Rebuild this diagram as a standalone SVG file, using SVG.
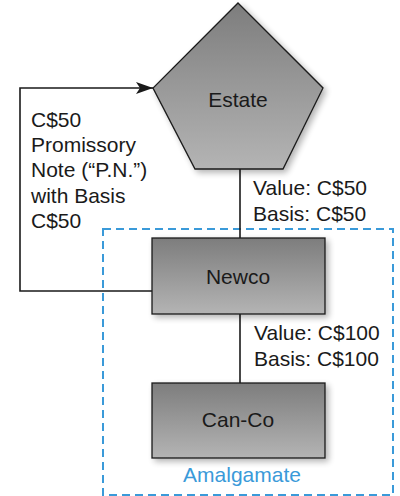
<svg xmlns="http://www.w3.org/2000/svg" width="400" height="496" viewBox="0 0 400 496">
  <style>
    .shape { stroke: #1a1a1a; stroke-width: 1.3; fill: url(#grayFill); filter: url(#shadow); }
    .conn { fill: none; stroke: #1a1a1a; stroke-width: 1.6; }
    .lbl { font-family: "Liberation Sans", Arial, sans-serif; font-size: 21px; fill: #1a1a1a; }
    .mid { text-anchor: middle; }
    .group { fill: none; stroke: #3a9ad9; stroke-width: 2; stroke-dasharray: 8 5; }
    .glbl { font-family: "Liberation Sans", Arial, sans-serif; font-size: 21px; fill: #3a9ad9; text-anchor: middle; }
  </style>
  <defs>
    <linearGradient id="grayFill" x1="0" y1="0" x2="0" y2="1">
      <stop offset="0" stop-color="#7d7d7d"/>
      <stop offset="1" stop-color="#b4b4b4"/>
    </linearGradient>
    <filter id="shadow" x="-20%" y="-20%" width="150%" height="150%">
      <feGaussianBlur in="SourceAlpha" stdDeviation="3"/>
      <feOffset dx="3" dy="3" result="blur"/>
      <feComponentTransfer><feFuncA type="linear" slope="0.3"/></feComponentTransfer>
      <feMerge><feMergeNode/><feMergeNode in="SourceGraphic"/></feMerge>
    </filter>
    <marker id="arrow" markerWidth="18" markerHeight="12" refX="17" refY="6" orient="auto" markerUnits="userSpaceOnUse">
      <path d="M0,0 L17,6 L0,12 L4,6 Z" fill="#1a1a1a"/>
    </marker>
  </defs>

  <!-- amalgamation boundary -->
  <g id="amalgamate">
    <rect class="group" x="103" y="229" width="290" height="266"/>
    <text class="glbl" x="242" y="482">Amalgamate</text>
  </g>

  <!-- connectors -->
  <g id="connectors">
    <line class="conn" x1="240" y1="169" x2="240" y2="238"/>
    <line class="conn" x1="240" y1="314" x2="240" y2="383"/>
    <polyline class="conn" points="152,291 20,291 20,88 153,88" marker-end="url(#arrow)"/>
    <text class="lbl" x="253" y="195">Value: C$50</text>
    <text class="lbl" x="253" y="221">Basis: C$50</text>
    <text class="lbl" x="254" y="340">Value: C$100</text>
    <text class="lbl" x="254" y="366">Basis: C$100</text>
    <text class="lbl" x="31" y="127">C$50</text>
    <text class="lbl" x="31" y="152">Promissory</text>
    <text class="lbl" x="31" y="177">Note (“P.N.”)</text>
    <text class="lbl" x="31" y="203">with Basis</text>
    <text class="lbl" x="31" y="228">C$50</text>
  </g>

  <g id="estate">
    <polygon class="shape" points="238,3 323,88 283,169 195,169 153,88"/>
    <text class="lbl mid" x="238" y="107">Estate</text>
  </g>

  <g id="newco">
    <rect class="shape" x="152" y="238" width="173" height="76"/>
    <text class="lbl mid" x="238" y="284">Newco</text>
  </g>

  <g id="canco">
    <rect class="shape" x="152" y="383" width="173" height="75"/>
    <text class="lbl mid" x="238" y="427">Can-Co</text>
  </g>
</svg>
